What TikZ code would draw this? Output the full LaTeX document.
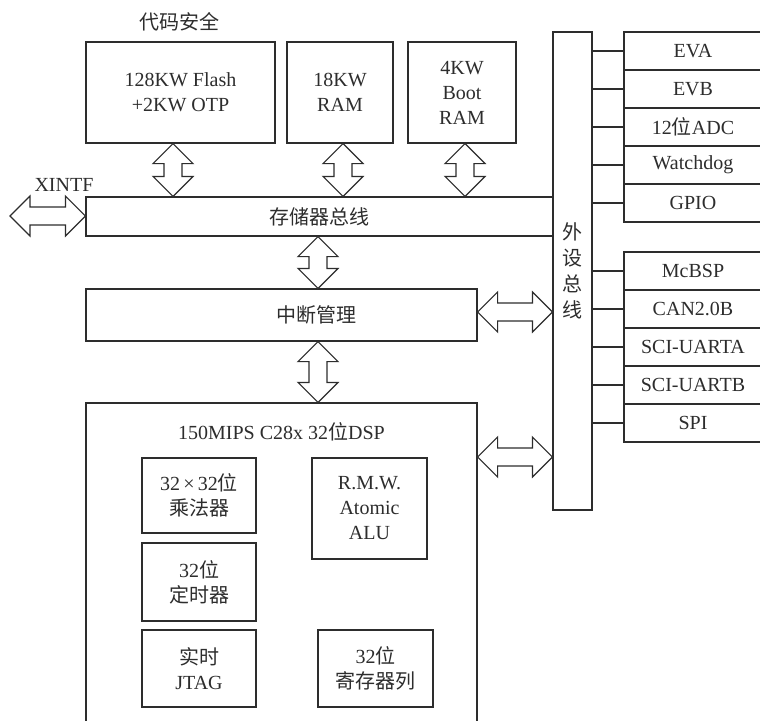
\documentclass[tikz,border=0pt]{standalone}
\usepackage{fontspec}
\setmainfont{Liberation Serif}
\newfontfamily\cjk{Noto Sans CJK SC}
\usetikzlibrary{calc}
\definecolor{ink}{RGB}{45,45,45}
\tikzset{
  blk/.style={draw=ink, text=ink, line width=1.2pt, inner sep=0pt, align=center,
    font=\fontsize{20}{25}\selectfont},
  lbl/.style={text=ink, inner sep=0pt, font=\fontsize{20}{25}\selectfont},
  link/.style={draw=ink, line width=1.2pt},
  busarrow/.style={draw=ink, line width=1.2pt, fill=white},
}
% hollow two-way bus arrows: vertical (x, upper end, lower end)
\newcommand{\vbus}[3]{%
  \draw[busarrow] let \p1=(#1,0), \p2=#2, \p3=#3 in
    (\x1,\y2) -- (\x1+20pt,\y2-20pt) -- (\x1+9pt,\y2-20pt) -- (\x1+9pt,\y3+20pt)
    -- (\x1+20pt,\y3+20pt) -- (\x1,\y3) -- (\x1-20pt,\y3+20pt) -- (\x1-9pt,\y3+20pt)
    -- (\x1-9pt,\y2-20pt) -- (\x1-20pt,\y2-20pt) -- cycle;}
% horizontal (y, left end, right end)
\newcommand{\hbus}[3]{%
  \draw[busarrow] let \p1=(0,#1), \p2=#2, \p3=#3 in
    (\x2,\y1) -- (\x2+20pt,\y1+20pt) -- (\x2+20pt,\y1+9pt) -- (\x3-20pt,\y1+9pt)
    -- (\x3-20pt,\y1+20pt) -- (\x3,\y1) -- (\x3-20pt,\y1-20pt) -- (\x3-20pt,\y1-9pt)
    -- (\x2+20pt,\y1-9pt) -- (\x2+20pt,\y1-20pt) -- cycle;}

\begin{document}
\begin{tikzpicture}[x=1pt, y=-1pt]
  \useasboundingbox (0,0) rectangle (760,720);
  \fill[white] (0,0) rectangle (760,720);
  \clip (0,0) rectangle (760,720);

  % memories
  \node[lbl, font=\fontsize{20}{25}\selectfont\cjk] (seclbl) at (179,22) {代码安全};
  \node[blk, minimum width=189, minimum height=101] (flash) at (180.5,92.5)
    {128KW Flash\\+2KW OTP};
  \node[blk, minimum width=106, minimum height=101] (ram) at (340,92.5) {18KW\\RAM};
  \node[blk, minimum width=108, minimum height=101] (boot) at (462,92.5)
    {4KW\\Boot\\RAM};

  % buses
  \node[blk, minimum width=467, minimum height=39] (membus) at (319.5,216.5)
    {{\cjk 存储器总线}};
  \node[blk, minimum width=391, minimum height=52] (intr) at (281.5,315) {};
  \node[lbl, font=\fontsize{20}{25}\selectfont\cjk] (intrlbl) at (316,315) {中断管理};
  \node[blk, minimum width=39, minimum height=478,
    font=\fontsize{20}{26}\selectfont\cjk] (pbus) at (572.5,271) {外\\设\\总\\线};

  % CPU core
  \node[blk, minimum width=391, minimum height=337] (dsp) at (281.5,571.5) {};
  \node[lbl] (dsptitle) at (281.5,432) {150MIPS C28x 32{\cjk 位}DSP};
  \node[blk, minimum width=114, minimum height=75] (mult) at (199,495.5)
    {32\,×\,32{\cjk 位}\\{\cjk 乘法器}};
  \node[blk, minimum width=115, minimum height=101] (alu) at (369.5,508.5)
    {R.M.W.\\Atomic\\ALU};
  \node[blk, minimum width=114, minimum height=78] (timer) at (199,582)
    {32{\cjk 位}\\{\cjk 定时器}};
  \node[blk, minimum width=114, minimum height=77] (jtag) at (199,668.5)
    {{\cjk 实时}\\JTAG};
  \node[blk, minimum width=115, minimum height=77] (regs) at (375.5,668.5)
    {32{\cjk 位}\\{\cjk 寄存器列}};

  % peripherals
  \foreach \txt [count=\i] in {EVA, EVB, 12{\cjk 位}ADC, Watchdog, GPIO}
    \node[blk, minimum width=138, minimum height=38] (pa\i) at (693,13+38*\i) {\txt};
  \foreach \txt [count=\i] in {McBSP, CAN2.0B, SCI-UARTA, SCI-UARTB, SPI}
    \node[blk, minimum width=138, minimum height=38] (pb\i) at (693,233+38*\i) {\txt};
  \foreach \i in {1,...,5} {
    \draw[link] (pbus.east |- pa\i.west) -- (pa\i.west);
    \draw[link] (pbus.east |- pb\i.west) -- (pb\i.west);
  }

  % bus arrows
  \vbus{173}{(flash.south)}{(membus.north)}
  \vbus{343}{(ram.south)}{(membus.north)}
  \vbus{465}{(boot.south)}{(membus.north)}
  \vbus{318}{(membus.south)}{(intr.north)}
  \vbus{318}{(intr.south)}{(dsp.north)}
  \hbus{312}{(intr.east)}{(pbus.west)}
  \hbus{457}{(dsp.east)}{(pbus.west)}

  % external interface
  \coordinate (xend) at (10,216);
  \hbus{216}{(xend)}{(membus.west)}
  \node[lbl] (xintflbl) at (64,185) {XINTF};
\end{tikzpicture}
\end{document}
